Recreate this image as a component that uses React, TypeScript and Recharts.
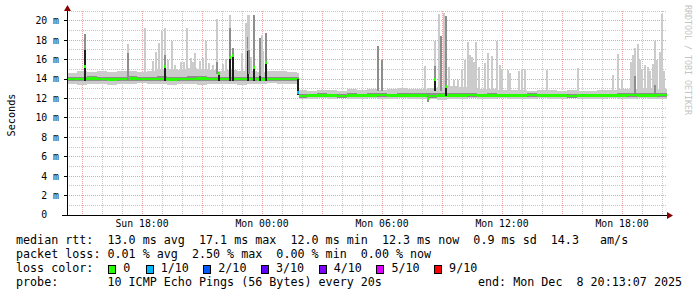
import { Area, Bar, CartesianGrid, ComposedChart, XAxis, YAxis } from "recharts";

// hours since graph start (Sun 14:15), one pixel = 3 minutes
const baseTime = [
  0, 0.5, 1, 1.5, 2, 2.5, 3, 3.5, 4, 4.5,
  5, 5.5, 6, 6.5, 7, 7.5, 8, 8.5, 9, 9.5,
  10, 10.5, 11, 11.5, 11.6, 12, 12.5, 13, 13.5, 14,
  14.5, 15, 15.5, 16, 16.5, 17, 17.5, 18, 18.5, 19,
  19.5, 20, 20.5, 21, 21.5, 22, 22.5, 23, 23.5, 24,
  24.5, 25, 25.5, 26, 26.5, 27, 27.5, 28, 28.5, 29,
  29.5, 30,
];
// smoke: fastest / slowest ping (ms)
const bandLow = [
  13.5, 13.4, 13.5, 13.5, 13.4, 13.5, 13.5, 13.6, 13.5, 13.5,
  13.4, 13.5, 13.5, 13.4, 13.5, 13.5, 13.5, 13.4, 13.5, 13.5,
  13.6, 13.5, 13.5, 13.5, 11.9, 11.9, 12.0, 11.9, 12.0, 11.9,
  11.9, 12.0, 11.9, 11.9, 12.0, 11.9, 11.9, 11.9, 11.8, 11.9,
  11.9, 12.0, 11.9, 11.9, 12.0, 11.9, 11.9, 11.9, 12.0, 11.9,
  11.9, 12.0, 11.9, 11.9, 11.9, 12.0, 11.9, 11.9, 12.0, 11.9,
  11.9, 12.0,
];
const bandHigh = [
  14.6, 14.8, 14.7, 14.8, 14.7, 14.8, 14.8, 14.7, 14.8, 15.0,
  15.0, 14.9, 15.1, 15.0, 14.9, 14.8, 14.9, 14.8, 14.8, 14.7,
  14.8, 14.8, 14.7, 14.6, 12.9, 12.8, 12.9, 12.9, 12.8, 13.0,
  12.9, 13.0, 12.9, 13.0, 13.1, 13.0, 13.0, 13.1, 13.2, 13.3,
  13.2, 13.1, 13.0, 13.0, 12.9, 12.9, 12.9, 12.8, 12.9, 12.9,
  12.8, 12.9, 12.8, 12.8, 12.9, 12.9, 13.0, 13.0, 13.1, 13.1,
  13.0, 12.9,
];
// denser smoke around the median
const coreLow = [
  13.78, 13.8, 13.82, 13.8, 13.76, 13.8, 13.84, 13.8, 13.78, 13.8,
  13.76, 13.8, 13.8, 13.84, 13.8, 13.78, 13.8, 13.8, 13.8, 13.76,
  13.8, 13.82, 13.8, 13.8, 12.08, 12.1, 12.12, 12.1, 12.08, 12.1,
  12.1, 12.12, 12.1, 12.1, 12.12, 12.1, 12.1, 12.08, 12.1, 12.1,
  12.1, 12.12, 12.1, 12.1, 12.12, 12.1, 12.1, 12.12, 12.1, 12.1,
  12.1, 12.08, 12.1, 12.1, 12.1, 12.12, 12.1, 12.12, 12.1, 12.1,
  12.12, 12.1,
];
const coreHigh = [
  14.22, 14.25, 14.28, 14.22, 14.2, 14.25, 14.3, 14.22, 14.25, 14.28,
  14.2, 14.25, 14.3, 14.3, 14.25, 14.22, 14.25, 14.22, 14.25, 14.2,
  14.22, 14.25, 14.2, 14.22, 12.5, 12.5, 12.55, 12.5, 12.5, 12.55,
  12.5, 12.55, 12.55, 12.5, 12.6, 12.55, 12.55, 12.55, 12.6, 12.6,
  12.55, 12.55, 12.5, 12.55, 12.5, 12.5, 12.5, 12.55, 12.5, 12.5,
  12.5, 12.45, 12.5, 12.5, 12.5, 12.5, 12.55, 12.55, 12.55, 12.6,
  12.55, 12.5,
];
const median = [
  14.0, 14.0, 14.05, 14.0, 13.95, 14.0, 14.05, 14.0, 14.0, 14.0,
  13.95, 14.0, 14.0, 14.05, 14.0, 14.0, 14.0, 14.0, 14.0, 13.95,
  14.0, 14.0, 14.0, 14.0, 12.25, 12.3, 12.3, 12.3, 12.25, 12.3,
  12.3, 12.3, 12.35, 12.3, 12.3, 12.3, 12.3, 12.25, 12.3, 12.3,
  12.3, 12.35, 12.3, 12.3, 12.3, 12.3, 12.3, 12.35, 12.3, 12.3,
  12.3, 12.25, 12.3, 12.3, 12.3, 12.3, 12.3, 12.35, 12.3, 12.3,
  12.35, 12.3,
];

// single-step spikes in the smoke
const spikeTime = [
  0.9, 3.05, 3.9, 4.45, 4.6, 4.75, 4.9, 5.23, 5.7, 5.85,
  6.02, 6.2, 6.4, 6.65, 6.95, 7.52, 7.6, 7.8, 7.95, 8.15,
  8.3, 8.75, 8.95, 9.03, 9.1, 9.2, 9.35, 9.65, 9.75, 9.8,
  9.95, 11.57, 15.55, 15.75, 17.9, 18.05, 18.4, 18.6, 18.7, 18.85,
  18.95, 19.1, 19.35, 19.55, 19.75, 19.9, 20.05, 20.25, 20.45, 20.9,
  21.05, 21.25, 21.52, 21.75, 22.15, 22.6, 22.75, 22.9, 24.02, 25.55,
  27.3, 27.55, 27.75, 28.3, 28.4, 28.55, 28.75, 28.9, 29.15, 29.4,
  29.65, 29.75, 29.85,
  4.3, 5.03, 5.4, 6.3, 6.8, 7.1, 7.3, 20.15, 20.35, 20.6,
  21.65, 22.03, 28.2, 28.65, 29.05, 29.3, 29.52,
];
const spikeLow = [
  13.8, 13.8, 14.5, 14.5, 14.5, 14.5, 13.8, 14.5, 14.5, 14.5,
  14.5, 14.5, 14.5, 14.5, 14.5, 14.5, 13.8, 14.5, 14.5, 13.8,
  13.8, 14.5, 14.5, 13.8, 14.5, 14.5, 13.8, 13.8, 14.5, 14.5,
  13.8, 12.4, 12.8, 12.8, 12.8, 11.6, 12.8, 12.8, 12.8, 12.8,
  12.3, 12.8, 12.8, 12.8, 12.8, 12.8, 12.8, 12.8, 12.8, 12.8,
  12.8, 12.8, 12.8, 12.8, 12.8, 12.8, 12.8, 12.8, 12.8, 12.8,
  12.8, 12.8, 12.8, 12.8, 12.5, 12.8, 12.8, 12.8, 12.8, 12.5,
  12.8, 12.8, 12.8,
  14.5, 14.5, 14.5, 14.5, 14.5, 14.5, 14.5, 12.8, 12.8, 12.8,
  12.8, 12.8, 12.8, 12.8, 12.8, 12.8, 12.8,
];
const spikeHigh = [
  18.6, 17.6, 19.2, 16.8, 17.7, 18.9, 19.2, 17.9, 15.7, 15.7,
  19.2, 16.2, 16.7, 15.9, 17.9, 20.2, 14.6, 15.5, 16.1, 20.6,
  17.2, 16.7, 19.8, 20.6, 20.6, 16.3, 20.6, 18.2, 18.5, 16.9,
  18.7, 14.0, 17.4, 16.0, 15.3, 12.2, 17.9, 20.7, 18.4, 20.8,
  20.5, 15.2, 13.9, 13.9, 15.0, 16.0, 17.8, 16.3, 17.8, 15.6,
  16.7, 16.4, 17.9, 15.0, 14.6, 14.8, 15.0, 15.0, 14.9, 15.1,
  14.4, 16.6, 14.0, 16.5, 17.2, 17.6, 15.0, 15.4, 14.8, 17.9,
  16.8, 20.7, 14.8,
  15.9, 16.0, 15.4, 15.8, 16.2, 15.6, 15.4, 16.5, 15.8, 15.2,
  15.4, 14.9, 15.8, 16.0, 15.2, 15.5, 16.0,
];
const spikeMid = [
  18.6, 16.7, null, null, null, null, 16.5, null, null, null,
  null, null, null, null, null, 15.8, null, null, null, 19.3,
  17.2, null, null, 18.3, 17.0, null, 20.6, 18.2, null, null,
  18.7, null, 17.4, 16.0, null, 12.2, 15.3, null, 18.4, null,
  20.5, null, null, null, null, null, null, null, null, null,
  null, null, null, null, null, null, null, null, null, null,
  null, null, null, null, 14.3, null, null, null, null, 13.4,
  null, null, null,
  null, null, null, null, null, null, null, null, null, null,
  null, null, null, null, null, null, null,
];
const spikeCore = [
  17.0, null, null, null, null, null, 15.3, null, null, null,
  null, null, null, null, null, null, 14.6, null, null, 16.2,
  16.4, null, null, 17.0, null, null, 15.2, 14.3, null, null,
  15.7, 14.0, null, null, null, null, 14.0, null, null, null,
  13.2, null, null, null, null, null, null, null, null, null,
  null, null, null, null, null, null, null, null, null, null,
  null, null, null, null, null, null, null, null, null, null,
  null, null, null,
  null, null, null, null, null, null, null, null, null, null,
  null, null, null, null, null, null, null,
];
const spikeMedian = [
  15.3, null, null, null, null, null, 15.3, null, null, null,
  null, null, null, null, null, null, 14.6, null, null, 16.2,
  16.4, null, null, 17.0, null, null, 15.2, null, null, null,
  15.7, 12.6, null, null, null, 12.0, 14.0, null, null, null,
  13.2, null, null, null, null, null, null, null, null, null,
  null, null, null, null, null, null, null, null, null, null,
  null, null, null, null, null, null, null, null, null, null,
  null, null, null,
  null, null, null, null, null, null, null, null, null, null,
  null, null, null, null, null, null, null,
];
// packet loss index of each spike's median (0 = none, 1 = 1/10 ...)
const spikeLoss = [
  0, 0, 0, 0, 0, 0, 0, 0, 0, 0,
  0, 0, 0, 0, 0, 0, 0, 0, 0, 0,
  0, 0, 0, 0, 0, 0, 0, 0, 0, 0,
  0, 1, 0, 0, 0, 0, 0, 0, 0, 0,
  0, 0, 0, 0, 0, 0, 0, 0, 0, 0,
  0, 0, 0, 0, 0, 0, 0, 0, 0, 0,
  0, 0, 0, 0, 0, 0, 0, 0, 0, 0,
  0, 0, 0,
  0, 0, 0, 0, 0, 0, 0, 0, 0, 0,
  0, 0, 0, 0, 0, 0, 0,
];

const xTicks = [3.75, 9.75, 15.75, 21.75, 27.75];
const xLabels = ["Sun 18:00", "Mon 00:00", "Mon 06:00", "Mon 12:00", "Mon 18:00"];
const yTicks = [0, 2, 4, 6, 8, 10, 12, 14, 16, 18, 20];
const yLabels = ["0", "2 m", "4 m", "6 m", "8 m", "10 m", "12 m", "14 m", "16 m", "18 m", "20 m"];

const lossLabels = ["0", "1/10", "2/10", "3/10", "4/10", "5/10", "9/10"];
const lossColors = ["#26ff00", "#00b8ff", "#0059ff", "#5e00ff", "#7e00ff", "#dd00ff", "#ff0000"];
const lossBoxX = [108.3, 145.7, 203.3, 261, 318.7, 376.4, 434.1];

const rttLine = "median rtt:  13.0 ms avg  17.1 ms max  12.0 ms min  12.3 ms now  0.9 ms sd  14.3   am/s";
const lossLine = "packet loss: 0.01 % avg  2.50 % max  0.00 % min  0.00 % now";
const probeLine = "probe:       10 ICMP Echo Pings (56 Bytes) every 20s";
const endLine = "end: Mon Dec  8 20:13:07 2025";

const MONO = "'DejaVu Sans Mono', monospace";
const LIGHT = "#cbcbcb";
const MID = "#8e8e8e";
const DARK = "#1e1e1e";
const SPIKE_W = 2;

const minorH = [1, 3, 5, 7, 9, 11, 13, 15, 17, 19, 21];
const majorH = [2, 4, 6, 8, 10, 12, 14, 16, 18, 20];
const hours = Array.from({ length: 30 }, (_, k) => 0.75 + k);
const majorV = hours.filter((_, k) => k % 3 === 0);
const minorV = hours.filter((_, k) => k % 3 !== 0);

const rows: any[] = [
  ...baseTime.map((t, i) => ({
    t,
    band: [bandLow[i], bandHigh[i]],
    core: [coreLow[i], coreHigh[i]],
    med: median[i],
  })),
  ...spikeTime.map((t, i) => ({
    t,
    spike: [spikeLow[i], spikeHigh[i]],
    mid: spikeMid[i],
    blk: spikeCore[i],
    smed: spikeMedian[i],
    loss: spikeLoss[i],
  })),
].sort((a, b) => a.t - b.t);

function SmokeSpike(props: any) {
  const { x, y, width, height, payload } = props;
  if (!payload || !payload.spike || !Number.isFinite(y) || !Number.isFinite(height)) return <g />;
  const [lo, hi] = payload.spike;
  const top = Math.min(y, y + height);
  const h = Math.abs(height);
  const k = h / (hi - lo);
  const yOf = (v: number) => top + (hi - v) * k;
  const bottom = top + h;
  // the library's band can be narrower than a spike, so keep it centred
  const cx = (Number.isFinite(x) ? x : 0) + (Number.isFinite(width) ? width : 0) / 2;
  const left = Math.round(cx - SPIKE_W / 2);
  return (
    <g>
      <rect x={left} y={top} width={SPIKE_W} height={h} fill={LIGHT} />
      {payload.mid != null && (
        <rect x={left} y={yOf(payload.mid)} width={SPIKE_W} height={bottom - yOf(payload.mid)} fill={MID} />
      )}
      {payload.blk != null && (
        <rect x={left} y={yOf(payload.blk)} width={SPIKE_W} height={bottom - yOf(payload.blk)} fill={DARK} />
      )}
      {payload.smed != null && (
        <rect x={left} y={yOf(payload.smed) - 1.5} width={SPIKE_W} height={3} fill={lossColors[payload.loss || 0]} />
      )}
    </g>
  );
}

function YTick({ x, y, payload }: any) {
  const i = yTicks.indexOf(payload.value);
  const label = yLabels[i] ?? String(payload.value);
  // rrdtool pads the bare zero label to the unit column
  const shift = payload.value === 0 ? 11.8 : 0;
  return (
    <text x={x - shift} y={y} dy="0.355em" textAnchor="end" fontFamily={MONO} fontSize={9.8} fill="#000">
      {label}
    </text>
  );
}

export default function App() {
  return (
    <div
      className="smk"
      style={{ position: "absolute", left: 0, top: 0, width: 697, height: 297, background: "#fff", overflow: "hidden" }}
    >
      <style>{`.smk svg line, .smk svg path, .smk svg rect { shape-rendering: crispEdges; }`}</style>
      <ComposedChart
        width={697}
        height={297}
        data={rows}
        margin={{ top: 11, right: 30, left: 37, bottom: 62 }}
      >
        <CartesianGrid
          horizontalValues={minorH}
          verticalValues={minorV}
          stroke="#c6c6c6"
          strokeDasharray="1 1"
        />
        <CartesianGrid
          horizontalValues={majorH}
          verticalValues={majorV}
          stroke="#e8a2a2"
          strokeDasharray="1 1"
        />
        <XAxis
          type="number"
          dataKey="t"
          domain={[0, 30]}
          allowDataOverflow
          ticks={xTicks}
          interval={0}
          tickFormatter={(v) => xLabels[xTicks.indexOf(v)] ?? ""}
          tick={{ fontFamily: MONO, fontSize: 9.8, fill: "#000" }}
          axisLine={{ stroke: "#000" }}
          tickLine={false}
          tickSize={3}
          tickMargin={2}
          height={20}
        />
        <YAxis
          type="number"
          domain={[0, 21]}
          allowDataOverflow
          ticks={yTicks}
          interval={0}
          tick={<YTick />}
          axisLine={{ stroke: "#000" }}
          tickLine={{ stroke: "#000" }}
          tickSize={3}
          tickMargin={5}
          width={30}
        />
        <Area
          dataKey="band"
          type="stepAfter"
          stroke="none"
          fill={LIGHT}
          fillOpacity={1}
          connectNulls
          dot={false}
          activeDot={false}
          isAnimationActive={false}
        />
        <Area
          dataKey="core"
          type="stepAfter"
          stroke="none"
          fill={MID}
          fillOpacity={1}
          connectNulls
          dot={false}
          activeDot={false}
          isAnimationActive={false}
        />
        <Area
          dataKey={(r: any) => (r.med == null ? undefined : [r.med - 0.14, r.med + 0.14])}
          type="stepAfter"
          stroke="none"
          fill={lossColors[0]}
          fillOpacity={1}
          connectNulls
          dot={false}
          activeDot={false}
          isAnimationActive={false}
        />
        <Bar dataKey="spike" barSize={SPIKE_W} shape={SmokeSpike} isAnimationActive={false} />
      </ComposedChart>

      <svg
        width={697}
        height={297}
        style={{ position: "absolute", left: 0, top: 0, pointerEvents: "none" }}
        fontFamily={MONO}
      >
        <line x1={62} y1={215.5} x2={67} y2={215.5} stroke="#000" />
        <line x1={667} y1={215.5} x2={670} y2={215.5} stroke="#000" />
        <polygon points="667,212 667,219 673,215.5" fill="#8b0000" />
        <line x1={67.5} y1={9} x2={67.5} y2={11} stroke="#000" />
        <polygon points="64,11 71,11 67.5,5" fill="#8b0000" />
        <text transform="translate(15,115) rotate(-90)" textAnchor="middle" fontSize={10.2} fill="#000">
          Seconds
        </text>
        <text transform="translate(684.5,5) rotate(90)" fontSize={8.3} fill="#c4c4c4">
          RRDTOOL / TOBI OETIKER
        </text>

        <g fontSize={11.7} fill="#000" style={{ whiteSpace: "pre" }}>
          <text x={16} y={244} xmlSpace="preserve">{rttLine}</text>
          <text x={16} y={258} xmlSpace="preserve">{lossLine}</text>
          <text x={16} y={272} xmlSpace="preserve">loss color:</text>
          {lossLabels.map((lab, i) => (
            <g key={lab}>
              <rect x={lossBoxX[i] + 0.5} y={265} width={7} height={8} fill={lossColors[i]} stroke="#000" />
              <text x={lossBoxX[i] + 15} y={272}>{lab}</text>
            </g>
          ))}
          <text x={16} y={286} xmlSpace="preserve">{probeLine}</text>
          <text x={478} y={286} xmlSpace="preserve">{endLine}</text>
        </g>
      </svg>
    </div>
  );
}
